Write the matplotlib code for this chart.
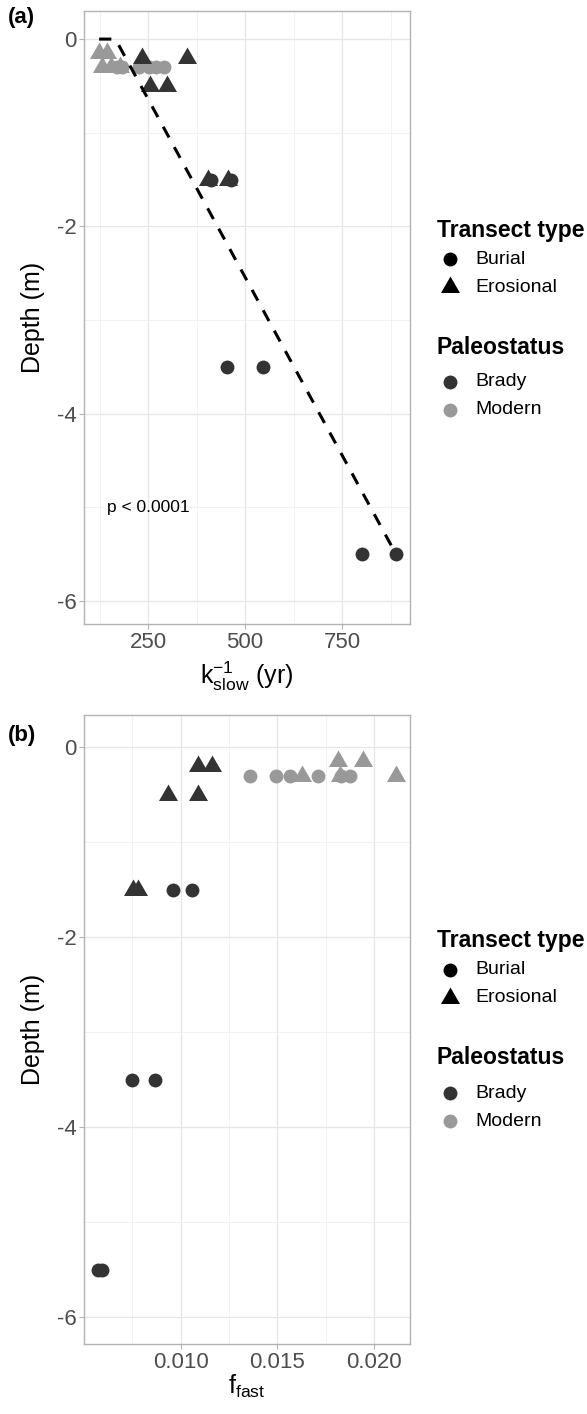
import matplotlib
matplotlib.use('Agg')
import matplotlib.pyplot as plt
import numpy as np
from matplotlib.path import Path

plt.rcParams['font.family'] = ['Liberation Sans', 'DejaVu Sans']
plt.rcParams['mathtext.fontset'] = 'custom'
plt.rcParams['mathtext.rm'] = 'Liberation Sans'
plt.rcParams['mathtext.it'] = 'Liberation Sans:italic'
plt.rcParams['mathtext.bf'] = 'Liberation Sans:bold'
plt.rcParams['axes.unicode_minus'] = False

# ---------------- data: panel (a) ----------------
a_brady_tri_k = [235, 350, 255, 299, 405, 457]
a_brady_tri_d = [-0.2, -0.2, -0.5, -0.5, -1.5, -1.5]
a_brady_cir_k = [413, 464, 454, 546, 802, 889]
a_brady_cir_d = [-1.5, -1.5, -3.5, -3.5, -5.5, -5.5]
a_modern_tri_k = [124, 144, 131, 155, 178]
a_modern_tri_d = [-0.15, -0.15, -0.3, -0.3, -0.3]
a_modern_cir_k = [170, 183, 227, 253, 271, 291]
a_modern_cir_d = [-0.3, -0.3, -0.3, -0.3, -0.3, -0.3]
fit_k = [124, 166, 889]
fit_d = [0, 0, -5.5]
a_xticks = [250, 500, 750]
a_xminor = [125, 375, 625, 875]

# ---------------- data: panel (b) ----------------
b_brady_tri_f = [0.01088, 0.01161, 0.00933, 0.01088, 0.00751, 0.00777]
b_brady_tri_d = [-0.2, -0.2, -0.5, -0.5, -1.5, -1.5]
b_brady_cir_f = [0.00959, 0.01057, 0.00746, 0.00865, 0.00570, 0.00591]
b_brady_cir_d = [-1.5, -1.5, -3.5, -3.5, -5.5, -5.5]
b_modern_tri_f = [0.01813, 0.01943, 0.01627, 0.01824, 0.02114]
b_modern_tri_d = [-0.15, -0.15, -0.3, -0.3, -0.3]
b_modern_cir_f = [0.01358, 0.01492, 0.01565, 0.01710, 0.01829, 0.01876]
b_modern_cir_d = [-0.3, -0.3, -0.3, -0.3, -0.3, -0.3]
b_xticks = [0.010, 0.015, 0.020]
b_xticklabels = ['0.010', '0.015', '0.020']
b_xminor = [0.0075, 0.0125, 0.0175]

yticks = [0, -2, -4, -6]
yticklabels = ['0', '-2', '-4', '-6']
yminor = [-1, -3, -5]

BRADY = '#333333'
MODERN = '#999999'

W, H = 587, 1414
fig = plt.figure(figsize=(W / 100, H / 100), dpi=100)

tri = Path([(-1, -0.57735), (1, -0.57735), (0, 1.1547), (-1, -0.57735)],
           [Path.MOVETO, Path.LINETO, Path.LINETO, Path.CLOSEPOLY])
S_CIR = 100
S_TRI = 250


def fx(px):
    return px / W


def fy(py):
    return 1 - py / H


def make_ax(top, bottom, left=84, right=410):
    return fig.add_axes([fx(left), fy(bottom), (right - left) / W, (bottom - top) / H])


def style(ax, xminor):
    ax.set_facecolor('white')
    for s in ax.spines.values():
        s.set_color('#B3B3B3')
        s.set_linewidth(1.0)
    ax.set_yticks(yticks)
    ax.set_yticklabels(yticklabels)
    ax.set_yticks(yminor, minor=True)
    ax.set_xticks(xminor, minor=True)
    ax.grid(True, which='major', color='#E6E6E6', lw=0.9, zorder=0)
    ax.grid(True, which='minor', color='#F0F0F0', lw=0.6, zorder=0)
    ax.set_axisbelow(True)
    ax.tick_params(which='major', length=3.5, width=0.8, color='#B3B3B3',
                   labelsize=16, labelcolor='#4D4D4D', pad=2)
    ax.tick_params(which='minor', length=0)


def points(ax, bt_x, bt_y, bc_x, bc_y, mt_x, mt_y, mc_x, mc_y):
    ax.scatter(mt_x, mt_y, marker=tri, s=S_TRI, color=MODERN, lw=0, zorder=3)
    ax.scatter(mc_x, mc_y, marker='o', s=S_CIR, color=MODERN, lw=0, zorder=3)
    ax.scatter(bt_x, bt_y, marker=tri, s=S_TRI, color=BRADY, lw=0, zorder=3)
    ax.scatter(bc_x, bc_y, marker='o', s=S_CIR, color=BRADY, lw=0, zorder=3)


def legend(top_center):
    t = top_center
    fig.text(fx(437), fy(t), 'Transect type', fontsize=16.5, fontweight='bold',
             va='center', ha='left')
    rows = [(t + 29, 'o', 'black', S_CIR, 'Burial'),
            (t + 57, tri, 'black', S_TRI, 'Erosional'),
            (t + 152, 'o', BRADY, S_CIR, 'Brady'),
            (t + 180, 'o', MODERN, S_CIR, 'Modern')]
    fig.text(fx(437), fy(t + 117), 'Paleostatus', fontsize=16.5, fontweight='bold',
             va='center', ha='left')
    lax = fig.add_axes([0, 0, 1, 1], facecolor='none')
    lax.set_xlim(0, W)
    lax.set_ylim(H, 0)
    lax.axis('off')
    for y, m, c, s, lab in rows:
        lax.scatter([450], [y], marker=m, s=s, color=c, lw=0)
        fig.text(fx(475), fy(y), lab, fontsize=14, va='center', ha='left')


# ---------------- panel (a) ----------------
axa = make_ax(11, 624)
style(axa, a_xminor)
axa.set_xticks(a_xticks)
axa.set_xticklabels([str(v) for v in a_xticks])
axa.set_xlim(85, 925)
axa.set_ylim(-6.245, 0.30)
points(axa, a_brady_tri_k, a_brady_tri_d, a_brady_cir_k, a_brady_cir_d,
       a_modern_tri_k, a_modern_tri_d, a_modern_cir_k, a_modern_cir_d)
axa.plot(fit_k, fit_d, color='black', lw=2.2, linestyle=(0, (4, 3.6)), zorder=4)
axa.text(250, -5.0, 'p < 0.0001', fontsize=12.5, ha='center', va='center', color='black')

fig.text(fx(247), fy(676), r'$\mathregular{k_{slow}^{-1}}$ (yr)', fontsize=18,
         ha='center', va='center')
fig.text(fx(33), fy(317), 'Depth (m)', fontsize=18, rotation=90, ha='center', va='center')
fig.text(fx(8), fy(18), '(a)', fontsize=16, fontweight='bold', ha='left', va='center')
legend(230)

# ---------------- panel (b) ----------------
axb = make_ax(715, 1344)
style(axb, b_xminor)
axb.set_xticks(b_xticks)
axb.set_xticklabels(b_xticklabels)
axb.set_xlim(0.00499, 0.021865)
axb.set_ylim(-6.284, 0.337)
points(axb, b_brady_tri_f, b_brady_tri_d, b_brady_cir_f, b_brady_cir_d,
       b_modern_tri_f, b_modern_tri_d, b_modern_cir_f, b_modern_cir_d)

fig.text(fx(247), fy(1386), r'$\mathregular{f_{fast}}$', fontsize=18,
         ha='center', va='center')
fig.text(fx(33), fy(1029), 'Depth (m)', fontsize=18, rotation=90, ha='center', va='center')
fig.text(fx(8), fy(735), '(b)', fontsize=16, fontweight='bold', ha='left', va='center')
legend(941)

fig.savefig('out.png', dpi=100, facecolor='white')
